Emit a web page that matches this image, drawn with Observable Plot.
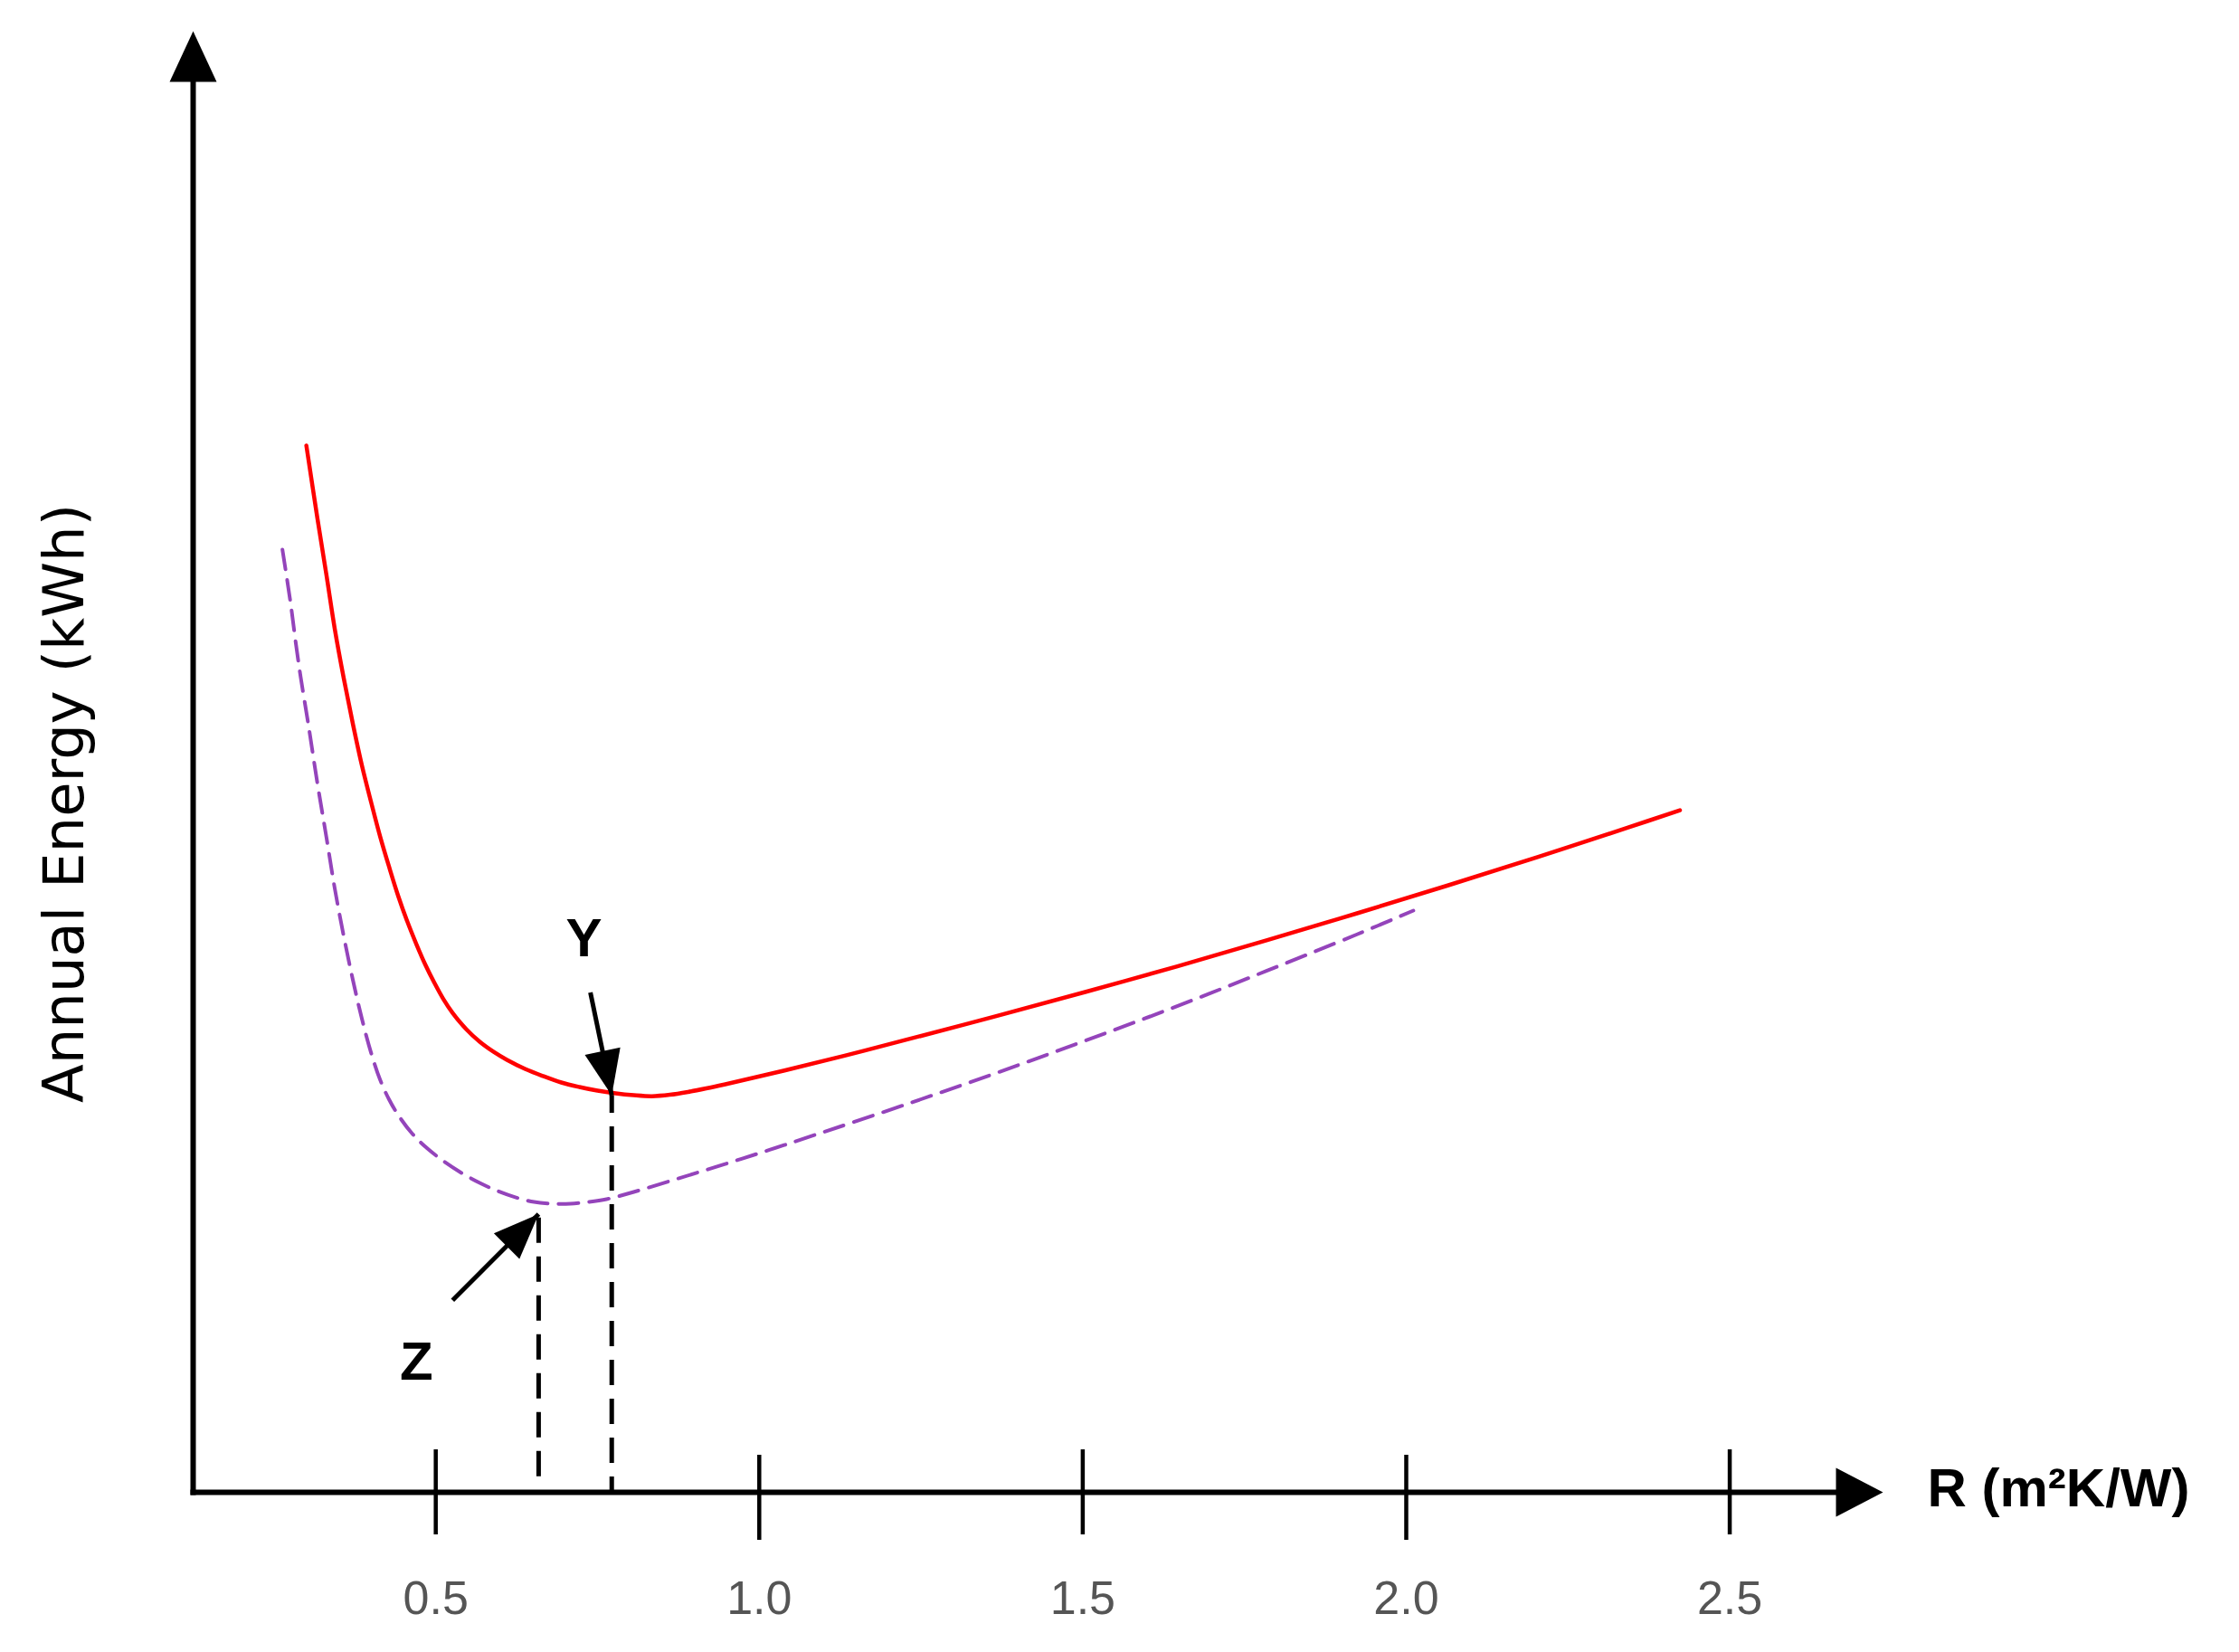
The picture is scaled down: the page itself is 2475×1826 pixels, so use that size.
<!DOCTYPE html>
<html><head><meta charset="utf-8">
<script src="https://cdn.jsdelivr.net/npm/d3@7"></script>
<script src="https://cdn.jsdelivr.net/npm/@observablehq/plot@0.6"></script>
<style>html,body{margin:0;padding:0;background:#fff;} svg{display:block}</style>
</head><body><div id="chart"></div>
<script>
// ---- data (R in m²K/W, annual energy in arbitrary units) ----
const redR = [0.300, 0.317, 0.331, 0.344, 0.358, 0.372, 0.386, 0.400, 0.414, 0.428, 0.442, 0.456, 0.470, 0.484, 0.498, 0.512, 0.526, 0.547, 0.568, 0.589, 0.610, 0.638, 0.666, 0.694, 0.722, 0.750, 0.778, 0.806, 0.834, 0.862, 0.890, 0.918, 0.946, 1.039, 1.132, 1.225, 1.365, 1.505, 1.645, 1.784, 1.924, 2.064, 2.204, 2.344, 2.423];
const redE = [74.12, 68.99, 64.96, 61.11, 57.59, 54.39, 51.44, 48.88, 46.44, 44.27, 42.22, 40.42, 38.82, 37.35, 36.07, 34.91, 33.95, 32.80, 31.90, 31.20, 30.62, 29.98, 29.47, 29.02, 28.70, 28.44, 28.25, 28.12, 28.05, 28.15, 28.35, 28.60, 28.88, 29.87, 30.92, 32.02, 33.70, 35.44, 37.23, 39.09, 41.00, 42.97, 45.00, 47.09, 48.30];
const purpleR = [0.263, 0.275, 0.284, 0.291, 0.303, 0.317, 0.331, 0.344, 0.358, 0.372, 0.386, 0.400, 0.414, 0.428, 0.442, 0.463, 0.484, 0.512, 0.540, 0.568, 0.596, 0.624, 0.652, 0.680, 0.708, 0.736, 0.764, 0.806, 0.876, 0.946, 1.016, 1.085, 1.225, 1.365, 1.505, 1.645, 1.784, 1.924, 2.011];
const purpleE = [66.75, 63.16, 60.03, 57.78, 54.39, 50.22, 46.38, 42.73, 39.33, 36.26, 33.50, 31.13, 29.21, 27.80, 26.71, 25.43, 24.47, 23.45, 22.61, 21.91, 21.33, 20.88, 20.56, 20.44, 20.44, 20.56, 20.76, 21.27, 22.24, 23.23, 24.25, 25.29, 27.44, 29.67, 32.00, 34.41, 36.92, 39.51, 41.19];

const xTicks = [0.5, 1.0, 1.5, 2.0, 2.5];
const xTickLabels = ["0.5", "1.0", "1.5", "2.0", "2.5"];

const optLabels = ["Y", "Z"];
const optR = [0.772, 0.659];        // dashed guide positions
const optTopE = [28.1, 19.7];       // guide top
const optBottomE = [0, 1.1];        // guide bottom
const labelR = [0.729, 0.470];      // letter label positions
const labelE = [39.2, 9.2];
const arrowFromR = [0.739, 0.526];  // annotation arrow tails
const arrowFromE = [35.4, 13.6];

const xTitle = "R (m²K/W)";
const yTitle = "Annual Energy (kWh)";
const xDomain = [0.125, 2.667];
const yDomain = [0, 100];

// ---- tables ----
const red = redR.map((r, i) => ({r, e: redE[i]}));
const purple = purpleR.map((r, i) => ({r, e: purpleE[i]}));
const opt = optLabels.map((label, i) => ({
  label, r: optR[i], top: optTopE[i], bottom: optBottomE[i],
  lr: labelR[i], le: labelE[i], ar: arrowFromR[i], ae: arrowFromE[i]
}));
const ticks = xTicks.map((t, i) => ({t, label: xTickLabels[i], odd: i % 2 === 1}));

const chart = Plot.plot({
  width: 2475,
  height: 1826,
  marginLeft: 213,
  marginRight: 2475 - 2031,
  marginTop: 88,
  marginBottom: 177,
  style: {background: "#fff", overflow: "visible"},
  x: {domain: xDomain, axis: null},
  y: {domain: yDomain, axis: null},
  marks: [
    // axes
    Plot.link([0], {x1: xDomain[0], y1: yDomain[0], x2: xDomain[1], y2: yDomain[0], stroke: "#000", strokeWidth: 6, strokeLinecap: "square", ariaDescription: "x-axis-line"}),
    Plot.link([0], {x1: xDomain[0], y1: yDomain[0], x2: xDomain[0], y2: yDomain[1], stroke: "#000", strokeWidth: 6, strokeLinecap: "square", ariaDescription: "y-axis-line"}),
    // ticks crossing the axis
    Plot.ruleX(ticks.filter(d => !d.odd), {x: "t", y1: 0, y2: 0, insetTop: -47, insetBottom: -47, stroke: "#000", strokeWidth: 4.5}),
    Plot.ruleX(ticks.filter(d => d.odd), {x: "t", y1: 0, y2: 0, insetTop: -41, insetBottom: -53, stroke: "#000", strokeWidth: 4.5}),
    Plot.text(ticks, {x: "t", frameAnchor: "bottom", lineAnchor: "middle", textAnchor: "middle", dy: 118, text: "label", fontSize: 52, fill: "#555", fontFamily: "Liberation Sans, Arial, sans-serif"}),
    // dashed guides
    Plot.ruleX(opt.filter(d => d.label === "Y"), {x: "r", y1: "bottom", y2: "top", stroke: "#000", strokeWidth: 5, strokeDasharray: "28,15", strokeDashoffset: 11}),
    Plot.ruleX(opt.filter(d => d.label === "Z"), {x: "r", y1: "bottom", y2: "top", stroke: "#000", strokeWidth: 5, strokeDasharray: "28,15", strokeDashoffset: 0}),
    // curves
    Plot.line(purple, {x: "r", y: "e", stroke: "#9444bb", strokeWidth: 4, strokeDasharray: "22,12", curve: "catmull-rom"}),
    Plot.line(red, {x: "r", y: "e", stroke: "#ff0000", strokeWidth: 4.5, curve: "catmull-rom"}),
    // annotation arrows
    Plot.link(opt, {x1: "ar", y1: "ae", x2: "r", y2: "top", stroke: "#000", strokeWidth: 5, ariaDescription: "annot-arrow"}),
    Plot.text(opt, {x: "lr", y: "le", text: "label", fontSize: 60, fontWeight: "bold", fill: "#000", fontFamily: "Liberation Sans, Arial, sans-serif"}),
    // axis titles
    Plot.text([xTitle], {frameAnchor: "bottom-right", textAnchor: "start", lineAnchor: "middle", dx: 99, dy: -4, text: d => d, fontSize: 60, fontWeight: "bold", fill: "#000", fontFamily: "Liberation Sans, Arial, sans-serif"}),
    Plot.text([yTitle], {frameAnchor: "left", textAnchor: "middle", lineAnchor: "middle", rotate: -90, dx: -142, dy: 19, text: d => d, fontSize: 62.5, fill: "#000", fontFamily: "DejaVu Sans, sans-serif"})
  ]
});

// arrowheads as SVG markers
const svg = d3.select(chart);
const defs = svg.insert("defs", ":first-child");
function addMarker(id, d) {
  defs.append("marker")
    .attr("id", id)
    .attr("markerUnits", "userSpaceOnUse")
    .attr("viewBox", "-100 -100 200 200")
    .attr("markerWidth", 200).attr("markerHeight", 200)
    .attr("refX", 0).attr("refY", 0)
    .attr("orient", "auto")
    .style("overflow", "visible")
    .append("path").attr("d", d).attr("fill", "#000").attr("stroke", "none");
}
addMarker("headX", "M-2,-27L50,0L-2,27Z");
addMarker("headY", "M-2,-26L54,0L-2,26Z");
addMarker("headAnn", "M-50,-20L0,0L-50,20Z");
function tag(desc, index, id) {
  let sel = svg.selectAll(`[aria-description="${desc}"] path`);
  if (sel.empty()) {
    const links = svg.selectAll('g[aria-label="link"]').nodes();
    if (links[index]) sel = d3.select(links[index]).selectAll("path");
  }
  sel.attr("marker-end", `url(#${id})`);
}
tag("x-axis-line", 0, "headX");
tag("y-axis-line", 1, "headY");
tag("annot-arrow", 2, "headAnn");

document.getElementById("chart").appendChild(chart);
</script>
</body></html>
